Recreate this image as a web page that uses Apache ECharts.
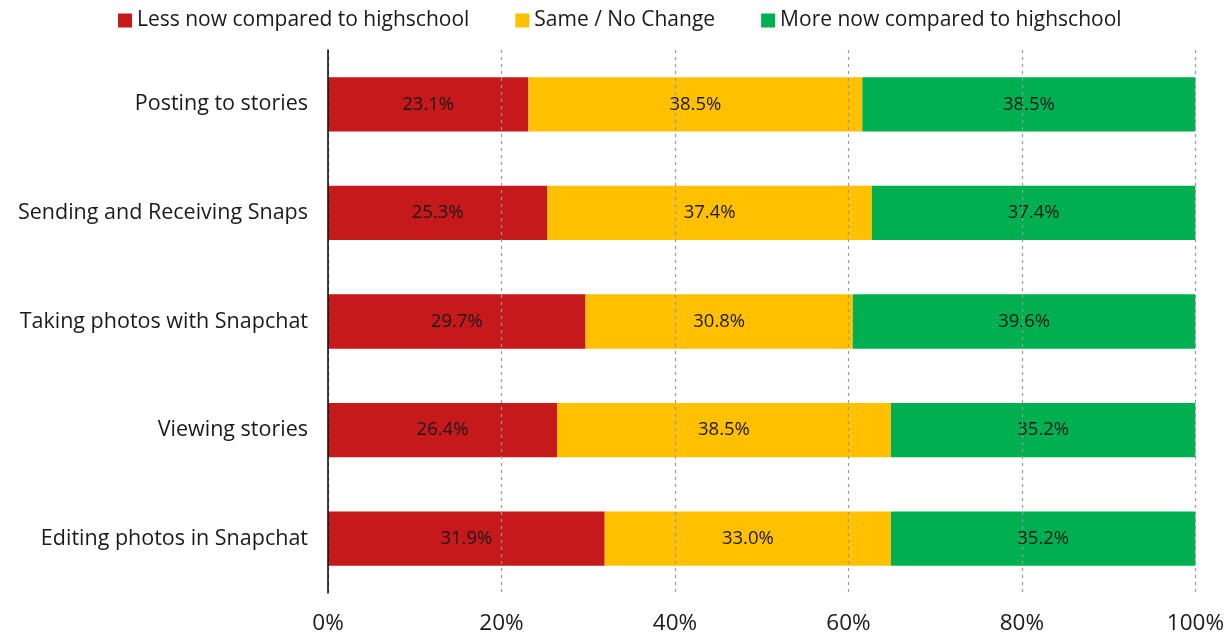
<!DOCTYPE html>
<html>
<head>
<meta charset="utf-8">
<script src="https://cdn.jsdelivr.net/npm/echarts@6/dist/echarts.min.js"></script>
<style>
  html, body { margin: 0; padding: 0; background: #fff; }
  #main { width: 1227px; height: 640px; }
</style>
</head>
<body>
<div id="main"></div>
<script>
var categories = ['Posting to stories', 'Sending and Receiving Snaps', 'Taking photos with Snapchat', 'Viewing stories', 'Editing photos in Snapchat'];
var lessValues = [23.1, 25.3, 29.7, 26.4, 31.9];
var sameValues = [38.5, 37.4, 30.8, 38.5, 33.0];
var moreValues = [38.5, 37.4, 39.6, 35.2, 35.2];
var xTicks = [0, 20, 40, 60, 80, 100];

var chartDom = document.getElementById('main');
var myChart = echarts.init(chartDom);
var option;

var font = '"Open Sans", Lato, sans-serif';

function barSeries(name, data, color) {
    return {
        name: name,
        type: 'bar',
        stack: 'total',
        barWidth: '50%',
        data: data,
        itemStyle: { color: color },
        label: {
            show: true,
            position: 'inside',
            color: '#1a1a1a',
            fontFamily: font,
            fontSize: 18.5,
            formatter: function (p) { return p.value.toFixed(1) + '%'; }
        }
    };
}

option = {
    textStyle: { fontFamily: font },
    legend: {
        top: 5,
        left: 113,
        itemWidth: 14,
        itemHeight: 14,
        itemGap: 46,
        icon: 'rect',
        textStyle: { fontSize: 21, color: '#1a1a1a', fontFamily: font }
    },
    grid: { left: 328, right: 31, top: 50, bottom: 47 },
    xAxis: {
        type: 'value',
        min: 0,
        max: 100,
        interval: 20,
        z: 5,
        axisLine: { show: false },
        axisTick: { show: false },
        axisLabel: {
            margin: 19,
            fontSize: 22.5,
            color: '#1a1a1a',
            fontFamily: font,
            formatter: function (v) { return xTicks.indexOf(v) >= 0 ? v + '%' : ''; }
        },
        splitLine: {
            show: true,
            lineStyle: { color: '#999', type: [3, 4], width: 1.2 }
        }
    },
    yAxis: {
        type: 'category',
        inverse: true,
        data: categories,
        z: 5,
        axisLine: { show: true, lineStyle: { color: '#000', width: 1.5 } },
        axisTick: { show: false },
        axisLabel: {
            margin: 20,
            fontSize: 21.5,
            color: '#1a1a1a',
            fontFamily: font
        }
    },
    series: [
        barSeries('Less now compared to highschool', lessValues, '#C5191B'),
        barSeries('Same / No Change', sameValues, '#FFC000'),
        barSeries('More now compared to highschool', moreValues, '#00B050')
    ]
};

option && myChart.setOption(option);
</script>
</body>
</html>
